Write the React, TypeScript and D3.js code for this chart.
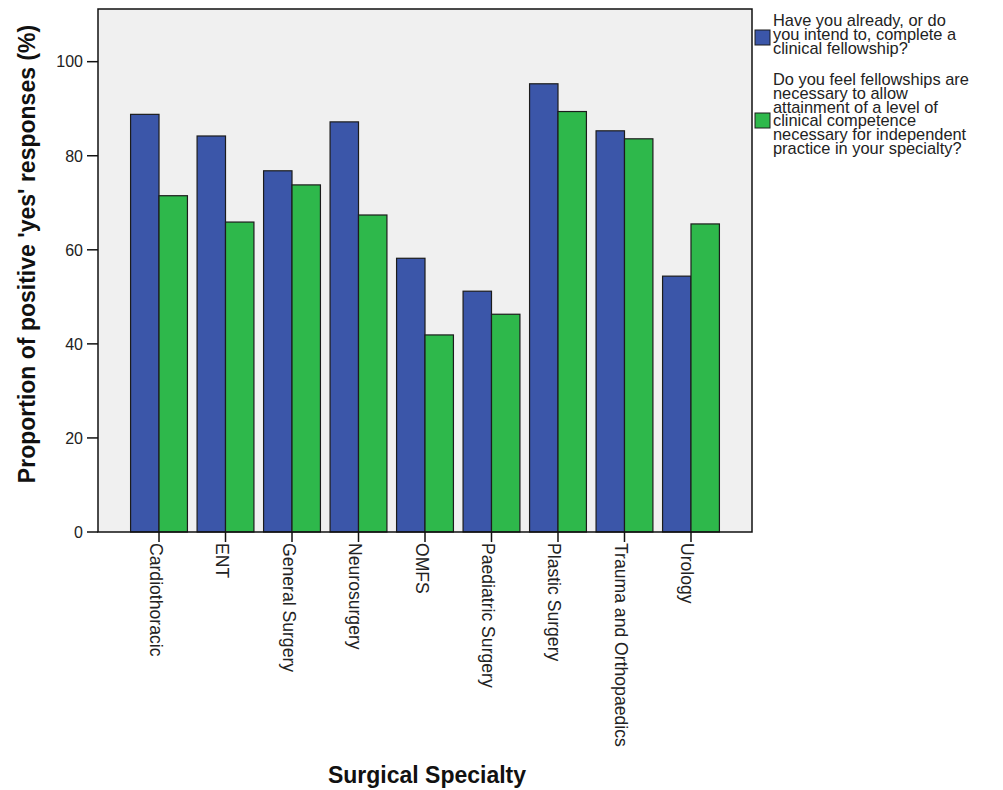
import { scaleBand, scaleLinear } from 'd3';

const categories = [
  'Cardiothoracic',
  'ENT',
  'General Surgery',
  'Neurosurgery',
  'OMFS',
  'Paediatric Surgery',
  'Plastic Surgery',
  'Trauma and Orthopaedics',
  'Urology',
];

const fellowshipIntent = [88.8, 84.2, 76.8, 87.2, 58.2, 51.2, 95.3, 85.3, 54.4];
const fellowshipNecessary = [71.5, 65.9, 73.8, 67.4, 41.9, 46.3, 89.4, 83.6, 65.5];

const yTicks = [0, 20, 40, 60, 80, 100];

const legendIntent = ['Have you already, or do', 'you intend to, complete a', 'clinical fellowship?'];
const legendNecessary = [
  'Do you feel fellowships are',
  'necessary to allow',
  'attainment of a level of',
  'clinical competence',
  'necessary for independent',
  'practice in your specialty?',
];

const width = 1003;
const height = 790;
const plot = { left: 98, right: 752, top: 9, bottom: 532 };
const blue = '#3b56a9';
const green = '#2eb84b';
const font = 'Arial, "Liberation Sans", Helvetica, sans-serif';
const legendLine = 13.8;

export default function App() {
  const xScale = scaleBand<string>()
    .domain(categories)
    .range([plot.left, plot.right])
    .paddingInner(0.145)
    .paddingOuter(0.49);

  const yScale = scaleLinear().domain([0, 111.2]).range([plot.bottom, plot.top]);

  const barWidth = xScale.bandwidth() / 2;
  const series = [
    { key: 'intent', values: fellowshipIntent, color: blue, offset: 0 },
    { key: 'necessary', values: fellowshipNecessary, color: green, offset: barWidth },
  ];

  return (
    <svg
      width={width}
      height={height}
      viewBox={`0 0 ${width} ${height}`}
      style={{ position: 'absolute', left: 0, top: 0, background: '#ffffff' }}
      fontFamily={font}
    >
      <rect x={plot.left} y={plot.top} width={plot.right - plot.left} height={plot.bottom - plot.top} fill="#f0f0f0" />

      {series.map(s =>
        categories.map((cat, i) => {
          const x = (xScale(cat) ?? 0) + s.offset;
          const y = yScale(s.values[i]);
          return (
            <rect
              key={`${s.key}-${cat}`}
              x={x}
              y={y}
              width={barWidth}
              height={plot.bottom - y}
              fill={s.color}
              stroke="#1c1c1c"
              strokeWidth={1.2}
            />
          );
        })
      )}

      <rect
        x={plot.left}
        y={plot.top}
        width={plot.right - plot.left}
        height={plot.bottom - plot.top}
        fill="none"
        stroke="#111"
        strokeWidth={1.5}
      />

      {yTicks.map(t => (
        <g key={t}>
          <line x1={plot.left - 11} x2={plot.left} y1={yScale(t)} y2={yScale(t)} stroke="#111" strokeWidth={1.5} />
          <text x={plot.left - 15} y={yScale(t) + 5.8} textAnchor="end" fontSize={16} fill="#222">
            {t}
          </text>
        </g>
      ))}

      {categories.map(cat => {
        const cx = (xScale(cat) ?? 0) + xScale.bandwidth() / 2;
        return (
          <g key={cat}>
            <line x1={cx} x2={cx} y1={plot.bottom} y2={plot.bottom + 10} stroke="#111" strokeWidth={1.5} />
            <text transform={`translate(${cx},${plot.bottom + 11}) rotate(90)`} x={0} y={9.5} fontSize={17.6} fill="#222">
              {cat}
            </text>
          </g>
        );
      })}

      <text
        transform="translate(35,254) rotate(-90)"
        textAnchor="middle"
        fontSize={23}
        fontWeight="bold"
        fill="#111"
      >
        Proportion of positive 'yes' responses (%)
      </text>

      <text x={427} y={783} textAnchor="middle" fontSize={23} fontWeight="bold" fill="#111">
        Surgical Specialty
      </text>

      <rect x={755} y={30} width={15} height={15} fill={blue} stroke="#1c1c1c" strokeWidth={1} />
      {legendIntent.map((l, i) => (
        <text key={l} x={773} y={26 + i * legendLine} fontSize={16.4} fill="#222">
          {l}
        </text>
      ))}

      <rect x={755} y={113} width={15} height={15} fill={green} stroke="#1c1c1c" strokeWidth={1} />
      {legendNecessary.map((l, i) => (
        <text key={l} x={773} y={85 + i * legendLine} fontSize={16.4} fill="#222">
          {l}
        </text>
      ))}
    </svg>
  );
}
